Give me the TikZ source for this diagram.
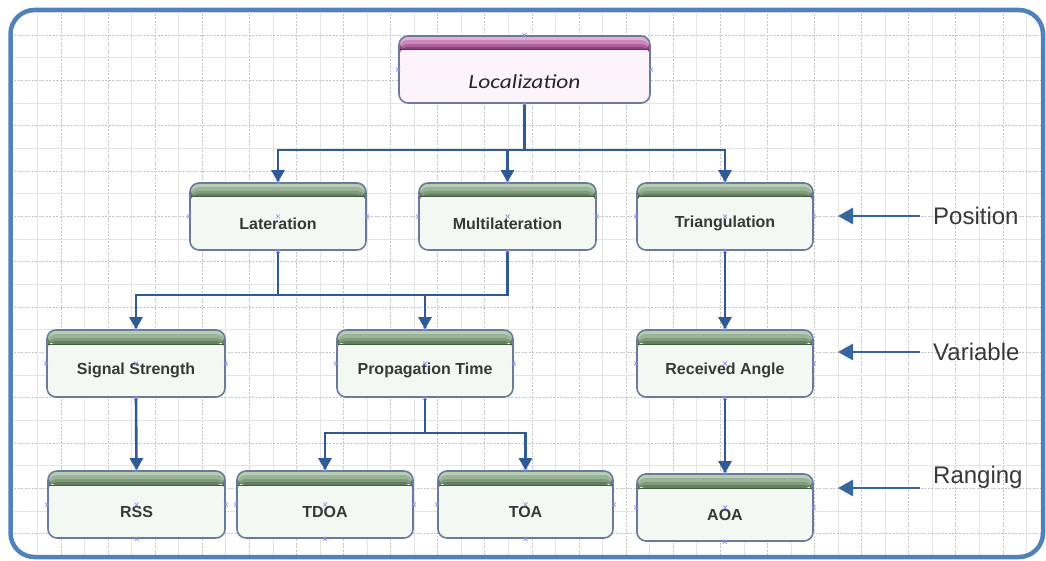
\documentclass[tikz,border=0pt]{standalone}
\usepackage{fontspec}
\setmainfont{Liberation Sans}
\newfontfamily\calib{Carlito}
\usetikzlibrary{arrows.meta,calc}
\definecolor{gridl}{HTML}{E4E4E4}
\definecolor{gridd}{HTML}{C4C4C4}
\definecolor{framec}{HTML}{4F81BD}
\definecolor{conn}{HTML}{2F5A96}
\definecolor{sidec}{HTML}{36659F}
\definecolor{boxedge}{HTML}{6A7A9A}
\definecolor{boxfill}{HTML}{F4F8F3}
\definecolor{ga}{HTML}{B7CDB4}
\definecolor{gb}{HTML}{9AB497}
\definecolor{gc}{HTML}{7E9B7B}
\definecolor{gd}{HTML}{62805F}
\definecolor{pa}{HTML}{E0B2D6}
\definecolor{pb}{HTML}{C987BB}
\definecolor{pc}{HTML}{AE619C}
\definecolor{pd}{HTML}{90427E}
\definecolor{pfill}{HTML}{FCF4FA}
\definecolor{xmkc}{HTML}{8C8CF2}
\definecolor{txt}{HTML}{383838}
\newcommand\hdr[4]{%
  \fill[#1] (path picture bounding box.north west) rectangle ($(path picture bounding box.north east)+(0,-14pt)$);
  \fill[#2] ($(path picture bounding box.north west)+(0,-4pt)$) rectangle ($(path picture bounding box.north east)+(0,-14pt)$);
  \fill[#3] ($(path picture bounding box.north west)+(0,-8pt)$) rectangle ($(path picture bounding box.north east)+(0,-14pt)$);
  \fill[#4] ($(path picture bounding box.north west)+(0,-11pt)$) rectangle ($(path picture bounding box.north east)+(0,-14pt)$);
  \draw[#4!70!black, line width=1pt] ($(path picture bounding box.north west)+(0,-14pt)$) -- ($(path picture bounding box.north east)+(0,-14pt)$);}
\tikzset{
  basebox/.style={draw=boxedge, line width=1.6pt, rounded corners=9pt, inner sep=0pt, minimum height=67pt},
  gbox/.style={basebox, fill=boxfill, minimum width=176pt, path picture={\hdr{ga}{gb}{gc}{gd}}},
  pbox/.style={basebox, fill=pfill, minimum width=251pt, path picture={\hdr{pa}{pb}{pc}{pd}}},
  lbl/.style={font=\fontsize{16}{18}\selectfont\bfseries, text=txt, inner sep=0pt},
  side/.style={font=\fontsize{24}{26}\selectfont, text=txt, inner sep=0pt, anchor=west},
  cline/.style={draw=conn, line width=2.6pt},
  carrow/.style={cline, -{Triangle[width=13pt,length=12pt]}},
  sarrow/.style={draw=sidec, line width=2.8pt, -{Triangle[width=16pt,length=15pt]}},
  xmk/.style={draw=xmkc, line width=0.7pt},
  gsolid/.style={draw=gridl, line width=1pt},
  gdash/.style={draw=gridd, line width=0.9pt, dash pattern=on 2pt off 1.5pt}
}
\newcommand\xmk[1]{\draw[xmk] ($(#1)+(-2pt,-2pt)$) -- ++(4pt,4pt) ($(#1)+(-2pt,2pt)$) -- ++(4pt,-4pt);}
\begin{document}
\begin{tikzpicture}[x=1pt,y=-1pt]
\useasboundingbox (0,0) rectangle (1046,561);
% grid
\begin{scope}
\clip[rounded corners=24pt] (10.5,10) rectangle (1043,557);
\foreach \i in {0,...,22} {\draw[gsolid] ({37.5+47.1*\i},0) -- ({37.5+47.1*\i},561);}
\foreach \i in {0,...,21} {\draw[gdash] ({61+47.1*\i},0) -- ({61+47.1*\i},561);}
\foreach \i in {-1,...,11} {\draw[gsolid] (0,{57.67+45.34*\i}) -- (1046,{57.67+45.34*\i});}
\foreach \i in {0,...,11} {\draw[gdash] (0,{35+45.34*\i}) -- (1046,{35+45.34*\i});}
\end{scope}
\draw[framec, line width=4.5pt, rounded corners=24pt] (10.5,10) rectangle (1043,557);

% boxes
\node[pbox] (loc) at (524.5,69.5) {};
\node[font=\calib\itshape\fontsize{20}{22}\selectfont, text=black!85, inner sep=0pt] at ($(loc.center)+(0,-12pt)$) {\scalebox{1.17}[1]{Localization}};

\node[gbox] (lat) at (278,216.5) {};
\node[gbox, minimum width=177pt] (mul) at (507.5,216.5) {};
\node[gbox] (tri) at (725,216.5) {};
\node[gbox, minimum width=178pt] (sig) at (136,363.5) {};
\node[gbox] (prop) at (425,363.5) {};
\node[gbox] (recv) at (725,363.5) {};
\node[gbox, minimum width=177pt] (rss) at (136.5,504.5) {};
\node[gbox] (tdoa) at (325,504.5) {};
\node[gbox, minimum width=175pt] (toa) at (525.5,504.5) {};
\node[gbox] (aoa) at (725,507.5) {};

\foreach \n/\t in {lat/Lateration, mul/Multilateration, tri/Triangulation, sig/Signal Strength, prop/Propagation Time, recv/Received Angle, rss/RSS, tdoa/TDOA, toa/TOA, aoa/AOA}
  {\node[lbl] at ($(\n.center)+(0,-7pt)$) {\t};}

% connectors
\coordinate (j1) at (524,150);
\coordinate (j2) at (300,295);
\coordinate (j3) at (425,433);
\draw[cline] (loc.south) -- (loc.south |- j1);
\draw[cline, line cap=rect] (lat.north |- j1) -- (tri.north |- j1);
\draw[carrow] (lat.north |- j1) -- (lat.north);
\draw[carrow] (mul.north |- j1) -- (mul.north);
\draw[carrow] (tri.north |- j1) -- (tri.north);

\draw[cline] (lat.south) -- (lat.south |- j2);
\draw[cline] (mul.south) -- (mul.south |- j2);
\draw[cline, line cap=rect] (sig.north |- j2) -- (mul.south |- j2);
\draw[carrow] (sig.north |- j2) -- (sig.north);
\draw[carrow] (prop.north |- j2) -- (prop.north);

\draw[carrow] (tri.south) -- (recv.north);
\draw[carrow] (sig.south) -- (rss.north);

\draw[cline] (prop.south) -- (prop.south |- j3);
\draw[cline, line cap=rect] (tdoa.north |- j3) -- (toa.north |- j3);
\draw[carrow] (tdoa.north |- j3) -- (tdoa.north);
\draw[carrow] (toa.north |- j3) -- (toa.north);

\draw[carrow] (recv.south) -- (aoa.north);

% side labels
\node[side] (pos) at (933,216) {Position};
\node[side] (var) at (933,352) {Variable};
\node[side] (rng) at (933,477) {Ranging};
\coordinate (pt) at (838,216);
\coordinate (vt) at (838,352);
\coordinate (rt) at (838,488);
\coordinate (rs) at (920,488);
\draw[sarrow] (pos.west) ++(-13pt,0) -- (pt);
\draw[sarrow] (var.west) ++(-13pt,0) -- (vt);
\draw[sarrow] (rs) -- (rt);

% connection point marks
\foreach \a in {north,west,east,south} {\xmk{loc.\a}}
\foreach \n in {lat,mul,tri,sig,prop,recv,rss,tdoa,toa,aoa}
  {\foreach \a in {north,west,east,south,center} {\xmk{\n.\a}}}
\end{tikzpicture}
\end{document}
